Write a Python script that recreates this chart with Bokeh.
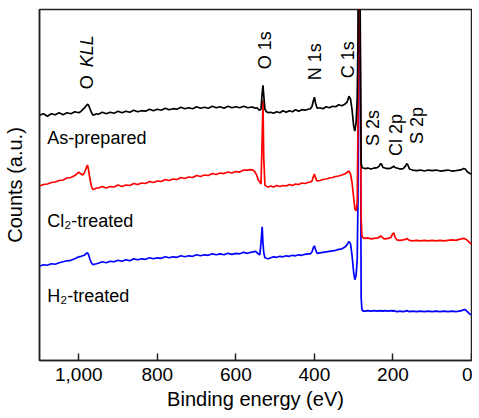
import math
from bokeh.plotting import figure
from bokeh.models import Range1d, Label, FixedTicker
from bokeh.embed import file_html
from bokeh.resources import INLINE

# Binding energy grid (eV)
energy = [1100, 1090, 1080, 1070, 1060, 1050, 1040, 1030, 1020, 1010, 1000, 994,
          990, 986, 982, 978, 975, 972, 968, 964, 960, 955,
          950, 940, 930, 920, 910, 900, 890, 880, 870, 860, 850, 840, 830, 820, 810, 800,
          790, 780, 770, 760, 750, 740, 730, 720, 710, 700, 690, 680, 670, 660, 650, 640,
          630, 620, 610, 600, 590, 580, 570, 562,
          556, 551, 547, 543, 539, 536, 533, 531, 529, 526, 522, 517, 511,
          504, 496, 488, 480, 472, 464, 456, 448, 440, 432, 424, 416, 410,
          406, 403, 400, 397, 393,
          386, 378, 370, 362, 354, 346, 338, 330, 323, 317,
          312, 308, 304, 300, 297, 294, 291, 289, 287, 285, 283, 281, 279, 276,
          271, 264, 256, 248, 240, 235, 231, 228, 225, 220, 212, 205, 201, 198, 195, 190,
          182, 174, 168, 165, 162, 158, 150, 140, 130, 120, 110, 100, 90, 80, 70, 60, 50,
          40, 32, 25, 20, 16, 12, 8, 4, 0]

# Counts (a.u.), offset traces
as_prepared = [246, 247.5, 245, 247.5, 246.5, 248.5, 246.5, 248.5, 247.5, 249.5, 248.5, 250,
               251.5, 253, 255, 257, 256, 253, 249, 246, 246.5, 247.5,
               247, 249, 247.5, 249, 248, 250, 248.5, 250, 249, 251, 249.5, 250.5, 250, 252, 250.5, 252,
               251, 253, 251.5, 252.5, 252, 254, 252.5, 253.5, 252.5, 254.5, 253, 254, 253, 255, 253.5, 254.5,
               253, 255, 253.5, 254.5, 253.5, 255, 253.5, 254,
               254, 253, 253.5, 252, 251, 252, 268, 276, 266, 252, 249.5, 248.5, 249,
               248, 249.5, 248.5, 250.5, 249, 250.5, 249.5, 251.5, 250, 251.5, 251, 252, 252.5,
               255, 260, 264, 258, 253,
               253.5, 252.5, 254.5, 253.5, 255, 254.5, 256.5, 255.5, 257, 259,
               265, 262, 251, 235, 230, 238, 263, 323, 463, 513, 303, 198, 194, 193,
               192.5, 193, 192, 193, 193.5, 195, 197.5, 196, 193.5, 193, 192.5, 193, 194, 195, 193.5, 193,
               192, 192.5, 195, 197.5, 196, 192, 191, 190.5, 191, 190, 191, 190.5, 191, 190, 190.5, 191, 190,
               190.5, 191, 191.5, 192.5, 192, 190, 188.5, 187.5, 187]

cl2_treated = [175, 176.5, 177, 178.5, 179, 180.5, 181, 183, 183.5, 185.5, 189, 187,
               186, 188, 192, 196, 191, 183, 175, 171.5, 172, 173,
               173, 174.5, 173, 174.5, 174, 176, 174.5, 176, 175.5, 177.5, 176.5, 178, 177.5, 179.5, 178.5, 180,
               179.5, 181.5, 180.5, 182, 181.5, 183.5, 182.5, 184, 183.5, 185.5, 184.5, 186, 185.5, 187.5, 186.5, 188,
               187.5, 189, 188, 189.5, 189, 191, 191, 191.5,
               191, 189, 186, 181, 179, 177, 223, 261, 203, 176, 174.5, 174, 175,
               174, 175.5, 174.5, 175.5, 175, 176.5, 175.5, 177, 176.5, 178, 177.5, 178.5, 179,
               180, 184, 187, 183, 180,
               180.5, 181.5, 182, 183, 183.5, 184.5, 185, 186, 187, 188.5,
               190, 187, 178, 163, 152, 150, 158, 243, 423, 483, 303, 143, 125, 123,
               122.5, 123, 122, 122.5, 123, 123.5, 125, 124, 122.5, 122, 122.5, 123.5, 127, 128, 124, 121,
               120.5, 121, 121.5, 122.5, 121.5, 120.5, 120, 120.5, 120, 120.5, 120, 120.5, 120, 120.5, 120, 120.5, 121,
               120.5, 121.5, 122, 122.5, 122, 121, 119.5, 118, 116.5]

h2_treated = [94.5, 96, 95.5, 97, 96.5, 98, 99, 100, 100.5, 102, 104, 104.5,
              105, 105.5, 107, 108, 106, 102, 98, 96, 96.5, 97,
              97.5, 99, 98, 99.5, 99, 100.5, 99.5, 101, 100, 102, 101, 102, 101.5, 103, 102, 103,
              102.5, 104, 103, 104, 103.5, 105, 104, 105, 104.5, 106, 105, 106, 105.5, 107, 106, 107,
              106, 107.5, 106.5, 107.5, 107, 108.5, 107.5, 108.5,
              109, 109.5, 108.5, 107, 106, 118, 134, 118, 108, 103, 102.5, 102, 103,
              104, 103.5, 104.5, 104, 105, 104.5, 105.5, 105, 106, 105.5, 106.5, 107, 107,
              109, 113, 115, 111, 107.5,
              108, 108.5, 109, 109.5, 110, 110.5, 111.5, 112, 113.5, 116,
              119.5, 117, 105, 88, 81, 85, 101, 163, 383, 443, 283, 63, 51, 49.5,
              49.5, 50, 49.5, 50, 49.5, 50, 49.5, 50, 49.5, 50, 49.5, 50, 49.5, 50, 49.5, 49,
              49.5, 49, 49.5, 50, 49.5, 49, 49.5, 49, 49.5, 49, 49.5, 49, 49.5, 49, 49.5, 49, 49.5,
              49, 49.5, 50, 51, 51, 49.5, 48, 46.5, 45.5]

x_ticks = [1000, 800, 600, 400, 200, 0]
x_tick_labels = ["1,000", "800", "600", "400", "200", "0"]

peak_labels = ["O 1s", "N 1s", "C 1s", "S 2s", "Cl 2p", "S 2p"]
peak_label_x = [527, 398, 315, 252, 192, 140]
peak_label_y = [292, 281, 283, 215, 205, 217]

sample_labels = ["As-prepared", "Cl\u2082-treated", "H\u2082-treated"]
sample_label_y = [223, 140, 65]

FONT = "Liberation Sans"
INK = "black"
FRAME = "#222222"

p = figure(width=472, height=412, output_backend="svg", toolbar_location=None,
           x_range=Range1d(1100, 0), y_range=Range1d(0, 352),
           min_border_left=39, min_border_right=1, min_border_top=9, min_border_bottom=51)
p.grid.visible = False
p.outline_line_color = FRAME
p.outline_line_width = 1.5
p.background_fill_color = "white"
p.border_fill_color = "white"

p.line(energy, h2_treated, line_color="#0000ff", line_width=1.7)
p.line(energy, cl2_treated, line_color="#ff0000", line_width=1.7)
p.line(energy, as_prepared, line_color="black", line_width=1.7)

xa = p.xaxis[0]
xa.ticker = FixedTicker(ticks=x_ticks)
xa.major_label_overrides = {t: l for t, l in zip(x_ticks, x_tick_labels)}
xa.major_tick_in = 7
xa.major_tick_out = 0
xa.major_tick_line_width = 1.5
xa.major_tick_line_color = FRAME
xa.minor_tick_line_color = None
xa.axis_line_width = 1.5
xa.axis_line_color = FRAME
xa.major_label_text_font = FONT
xa.major_label_text_font_size = "19px"
xa.major_label_text_color = INK
xa.major_label_standoff = 7
xa.axis_label = "Binding energy (eV)"
xa.axis_label_text_font = FONT
xa.axis_label_text_font_size = "20px"
xa.axis_label_text_font_style = "normal"
xa.axis_label_text_color = INK
xa.axis_label_standoff = 4

ya = p.yaxis[0]
ya.ticker = FixedTicker(ticks=[])
ya.major_tick_line_color = None
ya.minor_tick_line_color = None
ya.axis_line_width = 1.5
ya.axis_line_color = FRAME
ya.axis_label = "Counts (a.u.)"
ya.axis_label_text_font = FONT
ya.axis_label_text_font_size = "20px"
ya.axis_label_text_font_style = "normal"
ya.axis_label_text_color = INK
ya.axis_label_standoff = 14

# O KLL (KLL italic)
p.add_layout(Label(x=978, y=272, text="O", angle=math.pi / 2, text_font=FONT,
                   text_font_size="18px", text_align="left", text_baseline="middle",
                   text_color=INK))
p.add_layout(Label(x=978, y=294, text="KLL", angle=math.pi / 2, text_font=FONT,
                   text_font_size="18px", text_font_style="italic",
                   text_align="left", text_baseline="middle", text_color=INK))

for t, x, y in zip(peak_labels, peak_label_x, peak_label_y):
    p.add_layout(Label(x=x, y=y, text=t, angle=math.pi / 2, text_font=FONT,
                       text_font_size="18px", text_align="left", text_baseline="middle",
                       text_color=INK))

for t, y in zip(sample_labels, sample_label_y):
    p.add_layout(Label(x=1080, y=y, text=t, text_font=FONT, text_font_size="18px",
                       text_align="left", text_baseline="alphabetic", text_color=INK))

open("out.html", "w").write(file_html(p, INLINE))
